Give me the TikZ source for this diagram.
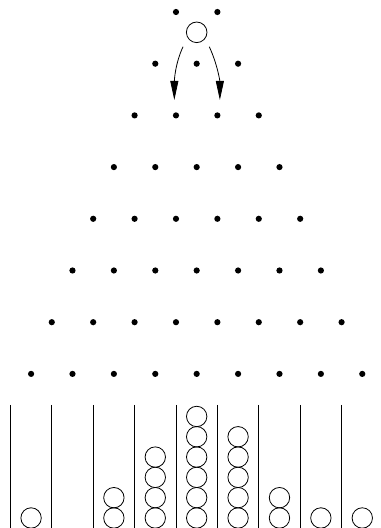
\documentclass[tikz,border=0pt]{standalone}
\usepackage{tikz}
\usetikzlibrary{arrows.meta, positioning, calc}

\begin{document}
\begin{tikzpicture}[x=41.4pt, y=-51.7pt, line width=0.8pt,
    peg/.style={fill=black},
    ball/.style={draw, circle, minimum size=20.6pt, inner sep=0pt},
    fall/.style={-{Triangle[length=19pt, width=8pt]}}]
  \useasboundingbox (-4.751,0.768) rectangle (4.452,10.981);

  % ---- Pegs ----
  \foreach \r in {1,...,8}
    \foreach \i in {0,...,\r}
      \fill[peg] (\i-\r/2, \r) circle [radius=3.1pt];

  % ---- Falling ball ----
  \node[ball] (drop) at (0, 1.393) {};
  \coordinate (lstart) at (-0.33, 1.672);
  \coordinate (lend)   at (-0.54, 2.702);
  \coordinate (rstart) at (0.304, 1.672);
  \coordinate (rend)   at (0.56, 2.702);
  \draw[fall] (lstart) to[out=245, in=90, looseness=0.9] (lend);
  \draw[fall] (rstart) to[out=-65, in=90, looseness=0.9] (rend);

  % ---- Bins ----
  \foreach \k in {0,...,8}
    \draw (\k-4.5, 8.601) -- (\k-4.5, 10.981);

  % balls collected (bin centre / count)
  \foreach \x/\n in {-4/1, -2/2, -1/4, 0/6, 1/5, 2/2, 3/1, 4/1}
    \foreach \j in {1,...,\n}
      \draw (\x, 10.787-\j*0.3927+0.3927) circle [radius=10.2pt];
\end{tikzpicture}
\end{document}
